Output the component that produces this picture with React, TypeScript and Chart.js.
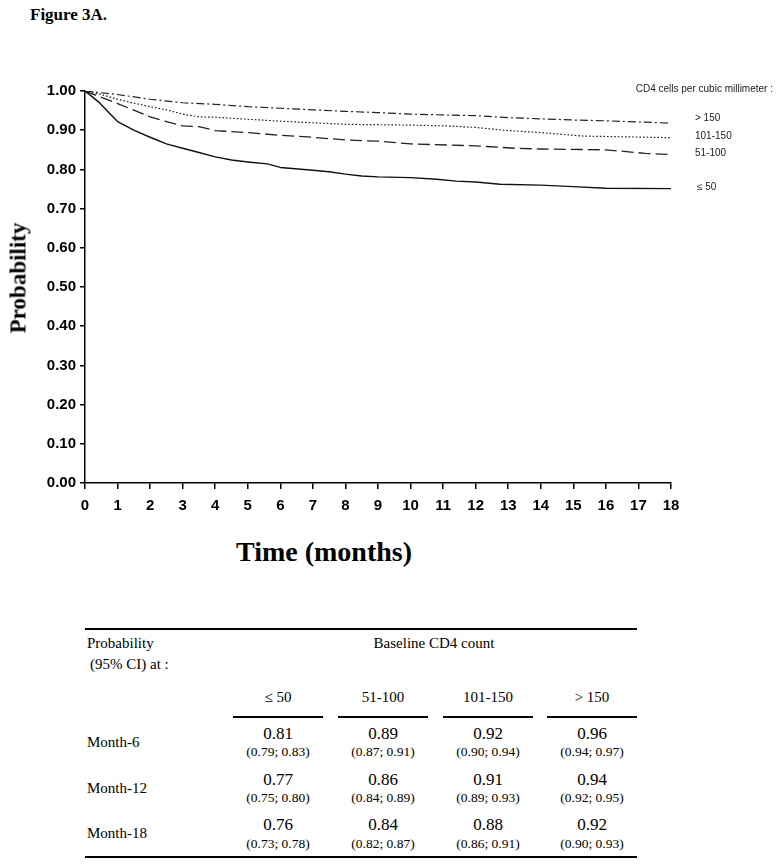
import React, { useEffect, useRef } from "react";
import { Chart, registerables } from "chart.js";

Chart.register(...registerables);

// ---- Curve data (Kaplan-Meier estimates) ----
const le50Months = [0, 0.2, 0.46, 0.75, 1, 1.5, 2, 2.5, 3, 3.5, 4, 4.5, 5, 5.6, 6, 7, 7.5, 8, 8.5, 9, 10, 10.8, 11.4, 12, 12.75, 14, 15, 16, 18];
const le50Prob = [1.0, 0.987, 0.969, 0.943, 0.922, 0.9, 0.882, 0.865, 0.854, 0.843, 0.832, 0.824, 0.819, 0.814, 0.805, 0.798, 0.794, 0.788, 0.783, 0.781, 0.779, 0.775, 0.77, 0.768, 0.762, 0.76, 0.756, 0.752, 0.751];

const g51Months = [0, 0.46, 1, 1.5, 2, 2.5, 3, 3.5, 4, 5, 6, 7, 8, 9, 10, 12, 13.2, 14, 16, 17.2, 18];
const g51Prob = [1.0, 0.985, 0.968, 0.951, 0.934, 0.922, 0.911, 0.909, 0.899, 0.894, 0.887, 0.882, 0.875, 0.872, 0.865, 0.86, 0.854, 0.852, 0.85, 0.841, 0.838];

const g101Months = [0, 0.46, 1, 1.5, 2, 2.5, 3, 3.5, 4, 5, 6, 7, 8, 10, 11.1, 12, 13, 14, 15.3, 18];
const g101Prob = [1.0, 0.992, 0.979, 0.969, 0.96, 0.952, 0.941, 0.934, 0.933, 0.928, 0.923, 0.919, 0.915, 0.913, 0.911, 0.907, 0.899, 0.894, 0.885, 0.881];

const g150Months = [0, 1, 2, 3, 4, 5, 6, 7, 8, 9, 10, 12, 13, 15, 16, 18];
const g150Prob = [1.0, 0.991, 0.979, 0.97, 0.966, 0.96, 0.956, 0.952, 0.948, 0.945, 0.941, 0.937, 0.932, 0.926, 0.924, 0.918];

const legendTitle = "CD4 cells per cubic millimeter :";
const seriesLabels = ["≤ 50", "51-100", "101-150", "> 150"];

// ---- Table data ----
const tableGroups = ["≤ 50", "51-100", "101-150", "> 150"];
const tableRows = ["Month-6", "Month-12", "Month-18"];
const estMonth6 = ["0.81", "0.89", "0.92", "0.96"];
const ciMonth6 = ["(0.79; 0.83)", "(0.87; 0.91)", "(0.90; 0.94)", "(0.94; 0.97)"];
const estMonth12 = ["0.77", "0.86", "0.91", "0.94"];
const ciMonth12 = ["(0.75; 0.80)", "(0.84; 0.89)", "(0.89; 0.93)", "(0.92; 0.95)"];
const estMonth18 = ["0.76", "0.84", "0.88", "0.92"];
const ciMonth18 = ["(0.73; 0.78)", "(0.82; 0.87)", "(0.86; 0.91)", "(0.90; 0.93)"];

const toPts = (xs: number[], ys: number[]) => xs.map((x, i) => ({ x, y: ys[i] }));

const SANS = "'Liberation Sans', Arial, sans-serif";
const SERIF = "'Liberation Serif', 'Times New Roman', serif";

const Txt = (props: { x: number; y: number; children: React.ReactNode; style?: React.CSSProperties; anchor?: "left" | "center" | "right" }) => {
  const a = props.anchor || "left";
  const tx = a === "left" ? "0" : a === "center" ? "-50%" : "-100%";
  return (
    <div
      style={{
        position: "absolute",
        left: props.x,
        top: props.y,
        transform: `translate(${tx}, -50%)`,
        whiteSpace: "nowrap",
        lineHeight: 1,
        ...props.style,
      }}
    >
      {props.children}
    </div>
  );
};

export default function App() {
  const ref = useRef<HTMLCanvasElement>(null);

  useEffect(() => {
    if (!ref.current) return;
    const common = { pointRadius: 0, fill: false, tension: 0, borderJoinStyle: "round" as const };
    const chart = new Chart(ref.current, {
      type: "line",
      data: {
        datasets: [
          { ...common, label: seriesLabels[0], data: toPts(le50Months, le50Prob), borderColor: "#111", borderWidth: 1.4 },
          { ...common, label: seriesLabels[1], data: toPts(g51Months, g51Prob), borderColor: "#222", borderWidth: 1.3, borderDash: [12, 5] },
          { ...common, label: seriesLabels[2], data: toPts(g101Months, g101Prob), borderColor: "#222", borderWidth: 1.2, borderDash: [1.6, 2] },
          { ...common, label: seriesLabels[3], data: toPts(g150Months, g150Prob), borderColor: "#222", borderWidth: 1.2, borderDash: [8, 3, 2, 3] },
        ],
      },
      options: {
        animation: false,
        responsive: false,
        maintainAspectRatio: false,
        layout: { padding: { left: 0, top: 91, right: 105, bottom: 0 } },
        plugins: { legend: { display: false }, tooltip: { enabled: false }, title: { display: false } },
        scales: {
          x: {
            type: "linear",
            min: 0,
            max: 18,
            ticks: { stepSize: 1, color: "#000", font: { family: SANS, size: 15, weight: "bold" }, padding: 8, maxRotation: 0, autoSkip: false },
            grid: { drawOnChartArea: false, drawTicks: true, tickLength: 6, color: "#000", lineWidth: 1.5 },
            border: { color: "#000", width: 1.5 },
            afterFit: (s: any) => { s.height = 47; },
          },
          y: {
            min: 0,
            max: 1,
            ticks: { stepSize: 0.1, color: "#000", font: { family: SANS, size: 15, weight: "bold" }, padding: 4, callback: (v: any) => Number(v).toFixed(2) },
            grid: { drawOnChartArea: false, drawTicks: true, tickLength: 5, color: "#000", lineWidth: 1.5 },
            border: { color: "#000", width: 1.5 },
            afterFit: (s: any) => { s.width = 85; },
          },
        },
      },
    });
    return () => chart.destroy();
  }, []);

  const colCenters = [278, 383, 488, 592];
  const estRows = [estMonth6, estMonth12, estMonth18];
  const ciRows = [ciMonth6, ciMonth12, ciMonth18];
  const estY = [733, 779, 824];
  const ciY = [752, 798, 844];
  const labY = [742, 788, 833];

  return (
    <div style={{ position: "absolute", left: 0, top: 0, width: 776, height: 864, background: "#fff", overflow: "hidden" }}>
      <Txt x={30} y={14} style={{ fontFamily: SERIF, fontWeight: "bold", fontSize: 17 }}>Figure 3A.</Txt>
      <canvas ref={ref} width={776} height={530} style={{ position: "absolute", left: 0, top: 0, width: 776, height: 530 }} />

      <Txt x={773} y={89} anchor="right" style={{ fontFamily: SANS, fontSize: 10, color: "#222" }}>{legendTitle}</Txt>
      <Txt x={695} y={118} style={{ fontFamily: SANS, fontSize: 10, color: "#222" }}>{seriesLabels[3]}</Txt>
      <Txt x={695} y={136} style={{ fontFamily: SANS, fontSize: 10, color: "#222" }}>{seriesLabels[2]}</Txt>
      <Txt x={695} y={153} style={{ fontFamily: SANS, fontSize: 10, color: "#222" }}>{seriesLabels[1]}</Txt>
      <Txt x={697} y={187} style={{ fontFamily: SANS, fontSize: 10, color: "#222" }}>{seriesLabels[0]}</Txt>

      <div
        style={{
          position: "absolute",
          left: 18,
          top: 278,
          transform: "translate(-50%, -50%) rotate(-90deg)",
          fontFamily: SERIF,
          fontWeight: "bold",
          fontSize: 23,
          whiteSpace: "nowrap",
          lineHeight: 1,
        }}
      >
        Probability
      </div>
      <Txt x={324} y={552} anchor="center" style={{ fontFamily: SERIF, fontWeight: "bold", fontSize: 28 }}>Time (months)</Txt>

      {/* Table */}
      <div style={{ position: "absolute", left: 85, top: 628, width: 552, height: 2, background: "#000" }} />
      <Txt x={87} y={643} style={{ fontFamily: SERIF, fontSize: 15 }}>Probability</Txt>
      <Txt x={90} y={664} style={{ fontFamily: SERIF, fontSize: 15 }}>(95% CI) at :</Txt>
      <Txt x={434} y={643} anchor="center" style={{ fontFamily: SERIF, fontSize: 15 }}>Baseline CD4 count</Txt>
      {tableGroups.map((g, i) => (
        <React.Fragment key={g}>
          <Txt x={colCenters[i]} y={697} anchor="center" style={{ fontFamily: SERIF, fontSize: 15 }}>{g}</Txt>
          <div style={{ position: "absolute", left: colCenters[i] - 45, top: 716, width: 90, height: 2, background: "#000" }} />
        </React.Fragment>
      ))}
      {tableRows.map((r, ri) => (
        <React.Fragment key={r}>
          <Txt x={87} y={labY[ri]} style={{ fontFamily: SERIF, fontSize: 15 }}>{r}</Txt>
          {estRows[ri].map((v, ci) => (
            <Txt key={"e" + ci} x={colCenters[ci]} y={estY[ri]} anchor="center" style={{ fontFamily: SERIF, fontSize: 17 }}>{v}</Txt>
          ))}
          {ciRows[ri].map((v, ci) => (
            <Txt key={"c" + ci} x={colCenters[ci]} y={ciY[ri]} anchor="center" style={{ fontFamily: SERIF, fontSize: 13.5 }}>{v}</Txt>
          ))}
        </React.Fragment>
      ))}
      <div style={{ position: "absolute", left: 85, top: 856, width: 552, height: 2, background: "#000" }} />
    </div>
  );
}
